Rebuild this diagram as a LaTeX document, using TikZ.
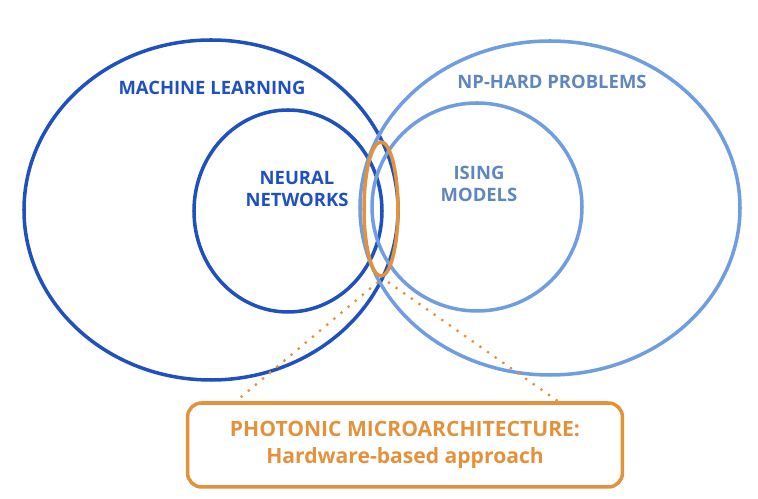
\documentclass[tikz,border=0pt]{standalone}
\usepackage{fontspec}
\setmainfont{Open Sans}
\usepackage{tikz}
\usetikzlibrary{positioning}
\definecolor{mlblue}{RGB}{30,80,190}
\definecolor{npblue}{RGB}{110,158,225}
\definecolor{phorange}{RGB}{228,145,60}
\colorlet{nplabel}{npblue!85!black}
\tikzset{
  mllabel/.style={text=mlblue,font=\fontsize{10.5}{12.5}\selectfont\bfseries,align=center},
  nplabel/.style={text=nplabel,font=\fontsize{10.5}{12.5}\selectfont\bfseries,align=center},
}
\begin{document}
\begin{tikzpicture}[x=0.02cm,y=-0.02cm]
\useasboundingbox (0,0) rectangle (758,499);
% sets
\draw[mlblue,line width=2pt] (211,210) ellipse [x radius=187,y radius=170];
\draw[mlblue,line width=2pt] (288,211) ellipse [x radius=94,y radius=101];
\draw[npblue,line width=2pt] (550,208) ellipse [x radius=190,y radius=167];
\draw[npblue,line width=2pt] (477,207) ellipse [x radius=105,y radius=104];
\draw[phorange,line width=2pt] (381,209) ellipse [x radius=17,y radius=67];

\node[mllabel] (ml) at (212,88) {MACHINE LEARNING};
\node[mllabel] (nn) at (297,189) {NEURAL\\NETWORKS};
\node[nplabel] (np) at (552,82) {NP-HARD PROBLEMS};
\node[nplabel] (is) at (479,184) {ISING\\MODELS};

% photonic box
\node[draw=phorange,line width=2pt,rounded corners=8pt,minimum width=8.7cm,minimum height=1.68cm,
  text=phorange,font=\fontsize{12}{15}\selectfont\bfseries,align=center] (pm) at (405,445)
  {PHOTONIC MICROARCHITECTURE:\\Hardware-based approach};
\coordinate (ll) at (378,282);
\coordinate (lr) at (388,282);
\draw[phorange,line width=1.3pt,dash pattern=on 1.3pt off 4pt] (ll) -- (pm.north west -| 236,0);
\draw[phorange,line width=1.3pt,dash pattern=on 1.3pt off 4pt] (lr) -- (pm.north east -| 558,0);
\end{tikzpicture}
\end{document}
